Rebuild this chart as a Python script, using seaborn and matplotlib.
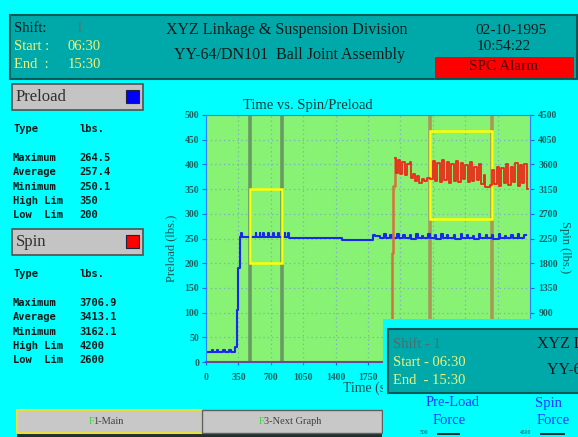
import matplotlib
matplotlib.use('Agg')
import matplotlib.pyplot as plt
import seaborn as sns
from matplotlib.patches import Rectangle

# ---- data ----
time_ticks = [0, 350, 700, 1050, 1400, 1750, 2100, 2450, 2800, 3150, 3500]
preload_ticks = [0, 50, 100, 150, 200, 250, 300, 350, 400, 450, 500]
spin_ticks = [0, 450, 900, 1350, 1800, 2250, 2700, 3150, 3600, 4050, 4500]

preload_time = [0, 60, 75, 120, 135, 185, 200, 250, 265, 313, 332, 350, 367, 380, 388,
                535, 543, 578, 586, 614, 622, 668, 676, 722, 730, 776, 784, 848, 856,
                884, 892, 1466, 1806, 1822, 1880, 1920, 1940, 1990, 2010, 2060, 2080,
                2130, 2145, 2200, 2215, 2270, 2285, 2330, 2345, 2400, 2415, 2470, 2485,
                2540, 2555, 2600, 2615, 2680, 2695, 2750, 2765, 2820, 2835, 2880, 2895,
                2950, 2965, 3020, 3035, 3090, 3105, 3160, 3175, 3230, 3245, 3300, 3315,
                3370, 3385, 3440, 3460]
preload_lbs = [20, 24, 20, 24, 20, 24, 20, 24, 20, 30, 105, 190, 253, 261, 253,
               261, 253, 261, 253, 261, 253, 261, 253, 261, 253, 261, 253, 261, 253,
               261, 252, 247, 258, 256, 252, 259, 252, 258, 251, 260, 252,
               258, 251, 257, 250, 259, 252, 256, 251, 260, 252, 257, 250,
               259, 252, 258, 251, 257, 250, 259, 252, 258, 251, 256, 250,
               259, 252, 258, 251, 257, 250, 259, 252, 256, 251, 258, 252,
               259, 251, 257, 257]

spin_rise_time = [1990, 2005, 2025, 2040]
spin_rise_lbs = [0, 1985, 3200, 3720]

spin_time = [2040, 2055, 2075, 2095, 2120, 2150, 2170, 2200, 2215, 2240, 2260, 2280,
             2300, 2330, 2360, 2390, 2420, 2450, 2475, 2500, 2525, 2550, 2575, 2600,
             2625, 2650, 2675, 2700, 2725, 2750, 2775, 2800, 2825, 2850, 2875, 2900,
             2925, 2950, 2975, 3000, 3015, 3070, 3090, 3115, 3140, 3165, 3190, 3215,
             3240, 3265, 3290, 3315, 3340, 3365, 3390, 3415, 3440, 3465, 3480]
spin_lbs = [3720, 3450, 3680, 3420, 3650, 3400, 3600, 3640, 3350, 3420, 3300, 3380,
            3260, 3340, 3300, 3360, 3330, 3660, 3300, 3620, 3280, 3680, 3320, 3640,
            3260, 3600, 3300, 3660, 3280, 3620, 3340, 3580, 3280, 3640, 3300, 3560,
            3320, 3600, 3250, 3400, 3190, 3230, 3500, 3250, 3560, 3200, 3540, 3260,
            3600, 3220, 3560, 3280, 3620, 3200, 3580, 3260, 3600, 3150, 3150]

# control windows (time span + limits)
preload_window = [475, 821]
preload_limits = [200, 350]
spin_window = [2420, 3087]
spin_limits = [2600, 4200]

preload_stats = ["264.5", "257.4", "250.1", "350", "200"]
spin_stats = ["3706.9", "3413.1", "3162.1", "4200", "2600"]
stat_names = ["Maximum", "Average", "Minimum", "High Lim", "Low  Lim"]

W, H = 578, 437
CYAN = '#00ffff'
TEAL = '#00a9a9'
plt.rcParams['font.family'] = ['Liberation Serif', 'DejaVu Serif']

fig = plt.figure(figsize=(W / 100, H / 100), dpi=100, facecolor=CYAN)

# ---- main chart ----
ax = fig.add_axes([206 / W, 1 - 362 / H, 324 / W, 247 / H])
ax.set_facecolor('#88f274')
ax2 = ax.twinx()

ax.grid(True, color='#7aaec0', ls=(0, (1, 2.5)), lw=0.9)
ax.set_axisbelow(True)
for t in preload_window:
    ax.axvline(t, color='#6a9a62', lw=2.6, zorder=1.8)
for t in spin_window:
    ax.axvline(t, color='#a89a56', lw=2.6, zorder=1.8)

ax.add_patch(Rectangle((preload_window[0], preload_limits[0]),
                       preload_window[1] - preload_window[0],
                       preload_limits[1] - preload_limits[0],
                       fill=False, ec='#ffff00', lw=1.8, zorder=2.5))

sns.lineplot(x=preload_time, y=preload_lbs, ax=ax, color='#1a28ee', lw=1.5,
             drawstyle='steps-post', estimator=None, sort=False)

ax2.add_patch(Rectangle((spin_window[0], spin_limits[0]),
                        spin_window[1] - spin_window[0],
                        spin_limits[1] - spin_limits[0],
                        fill=False, ec='#ffff00', lw=1.8, zorder=1))
sns.lineplot(x=spin_rise_time, y=spin_rise_lbs, ax=ax2, color='#d8703c', lw=1.8,
             drawstyle='steps-post', estimator=None, sort=False)
sns.lineplot(x=spin_time, y=spin_lbs, ax=ax2, color='#ea2a18', lw=1.3,
             drawstyle='steps-post', estimator=None, sort=False)

ax.set_xlim(0, 3500)
ax.set_ylim(0, 500)
ax2.set_ylim(0, 4500)
ax.set_xticks(time_ticks)
ax.set_xticklabels([str(v) for v in time_ticks])
ax.set_yticks(preload_ticks)
ax.set_yticklabels([str(v) for v in preload_ticks])
ax2.set_yticks(spin_ticks)
ax2.set_yticklabels([str(v) for v in spin_ticks])
ax.set_xlabel('')
ax.set_ylabel('')
ax2.set_ylabel('')

tick_col = '#1c5c5c'
ax.tick_params(axis='y', length=3, color='#2060ff', labelsize=7, labelcolor=tick_col, pad=2)
ax.tick_params(axis='x', length=2, color='#2060ff', labelsize=7, labelcolor=tick_col, pad=6)
ax2.tick_params(axis='y', length=3, color='#2060ff', labelsize=7, labelcolor=tick_col, pad=3)
for lbl in ax.get_xticklabels() + ax.get_yticklabels() + ax2.get_yticklabels():
    lbl.set_fontweight('bold')

for s in ['top', 'left']:
    ax.spines[s].set_color('#3080ff')
ax.spines['bottom'].set_color('#6a4c96')
ax.spines['bottom'].set_linewidth(1.5)
ax.spines['right'].set_visible(False)
for s in ['top', 'left', 'bottom']:
    ax2.spines[s].set_visible(False)
ax2.spines['right'].set_color('#3080ff')

# ---- overlay in pixel coordinates ----
ov = fig.add_axes([0, 0, 1, 1], zorder=10)
ov.set_xlim(0, W)
ov.set_ylim(H, 0)
ov.axis('off')
ov.patch.set_visible(False)


def txt(x, y, s, size, color='#101818', ha='left', z=3, **kw):
    ov.text(x, y, s, fontsize=size, color=color, ha=ha, va='center', zorder=z, **kw)


def box(x0, y0, x1, y1, fc, ec='none', lw=0, z=1):
    ov.add_patch(Rectangle((x0, y0), x1 - x0, y1 - y0, fc=fc, ec=ec, lw=lw, zorder=z))


# header
box(10, 15, 577, 79, TEAL, ec='#005a5a', lw=1.5)
box(435, 57, 574, 78, '#ff0000')
txt(14, 29, 'Shift:', 10.5)
txt(76, 29, '1', 10.5, color='#607070')
txt(14, 47, 'Start :', 10.5, color='#f2f27a')
txt(68, 47, '06:30', 10.5, color='#f2f27a')
txt(14, 65, 'End  :', 10.5, color='#f2f27a')
txt(68, 65, '15:30', 10.5, color='#f2f27a')
txt(287, 30, 'XYZ Linkage & Suspension Division', 11.5, ha='center')
txt(289, 55, 'YY-64/DN101  Ball Joint Assembly', 11.5, ha='center')
txt(511, 30, '02-10-1995', 11, ha='center')
txt(504, 47, '10:54:22', 11, ha='center')
txt(504, 67, 'SPC Alarm', 11, ha='center', color='#4a0000')

# left statistics panels
mono = dict(family='DejaVu Sans Mono', fontweight='bold')
for y0, name, sq, stats in [(84, 'Preload', '#0000ff', preload_stats),
                            (229, 'Spin', '#ff0000', spin_stats)]:
    box(12, y0, 143, y0 + 26, '#c4c4c4', ec='#505050', lw=1.2)
    box(126, y0 + 6, 139, y0 + 19, sq, ec='#202040', lw=0.8, z=2)
    txt(16, y0 + 13, name, 12, color='#303030')
    ty = y0 + 45
    txt(13, ty, 'Type', 7.5, **mono)
    txt(80, ty, 'lbs.', 7.5, **mono)
    for i, (n, v) in enumerate(zip(stat_names, stats)):
        yy = ty + 29 + i * 14.3
        txt(13, yy, n, 7.5, **mono)
        txt(79, yy, v, 7.5, **mono)

# chart titles
txt(308, 105, 'Time vs. Spin/Preload', 10.5, ha='center', color='#103838')
txt(171, 248, 'Preload (lbs.)', 9, ha='center', color='#1c5050', rotation=90)
txt(565, 247, 'Spin (lbs.)', 9, ha='center', color='#1c5050', rotation=270)
txt(343, 388, 'Time (sec.)', 10, color='#1c5050', z=2)

# bottom function keys
box(17, 433, 382, 437, '#203030')
box(17, 410, 202, 433, '#c8c8c8', ec='#e8e040', lw=1.5)
box(202, 410, 382, 433, '#c8c8c8', ec='#606060', lw=1)
txt(89, 422, 'F', 7.5, color='#30e030')
txt(93.5, 422, '1-Main', 7.5, color='#404040')
txt(259, 422, 'F', 7.5, color='#30e030')
txt(263.5, 422, '3-Next Graph', 7.5, color='#404040')

# inset window (covers the corner of the chart)
box(383, 319, 580, 440, CYAN, z=5)
box(388, 329, 580, 393, TEAL, ec='#005a5a', lw=1.5, z=5)
txt(393, 344, 'Shift - 1', 10.5, color='#586868', z=6)
txt(393, 362, 'Start - 06:30', 10.5, color='#f2f27a', z=6)
txt(393, 380, 'End  - 15:30', 10.5, color='#f2f27a', z=6)
txt(537, 344, 'XYZ Linkage & Suspension Division', 11.5, z=6)
txt(547, 370, 'YY-64/DN101  Ball Joint Assembly', 11.5, z=6)
txt(453, 403, 'Pre-Load', 10.5, ha='center', color='#2030ff', z=6)
txt(449, 420, 'Force', 10.5, ha='center', color='#2030ff', z=6)
txt(548, 403, 'Spin', 10.5, ha='center', color='#2030ff', z=6)
txt(553, 420, 'Force', 10.5, ha='center', color='#2030ff', z=6)
txt(420, 433, '500', 4, color='#204040', z=6)
box(437, 433, 460, 435, '#203030', z=6)
txt(520, 433, '4500', 4, color='#204040', z=6)
box(540, 433, 565, 435, '#203030', z=6)

fig.savefig('out.png', dpi=100, facecolor=CYAN)
